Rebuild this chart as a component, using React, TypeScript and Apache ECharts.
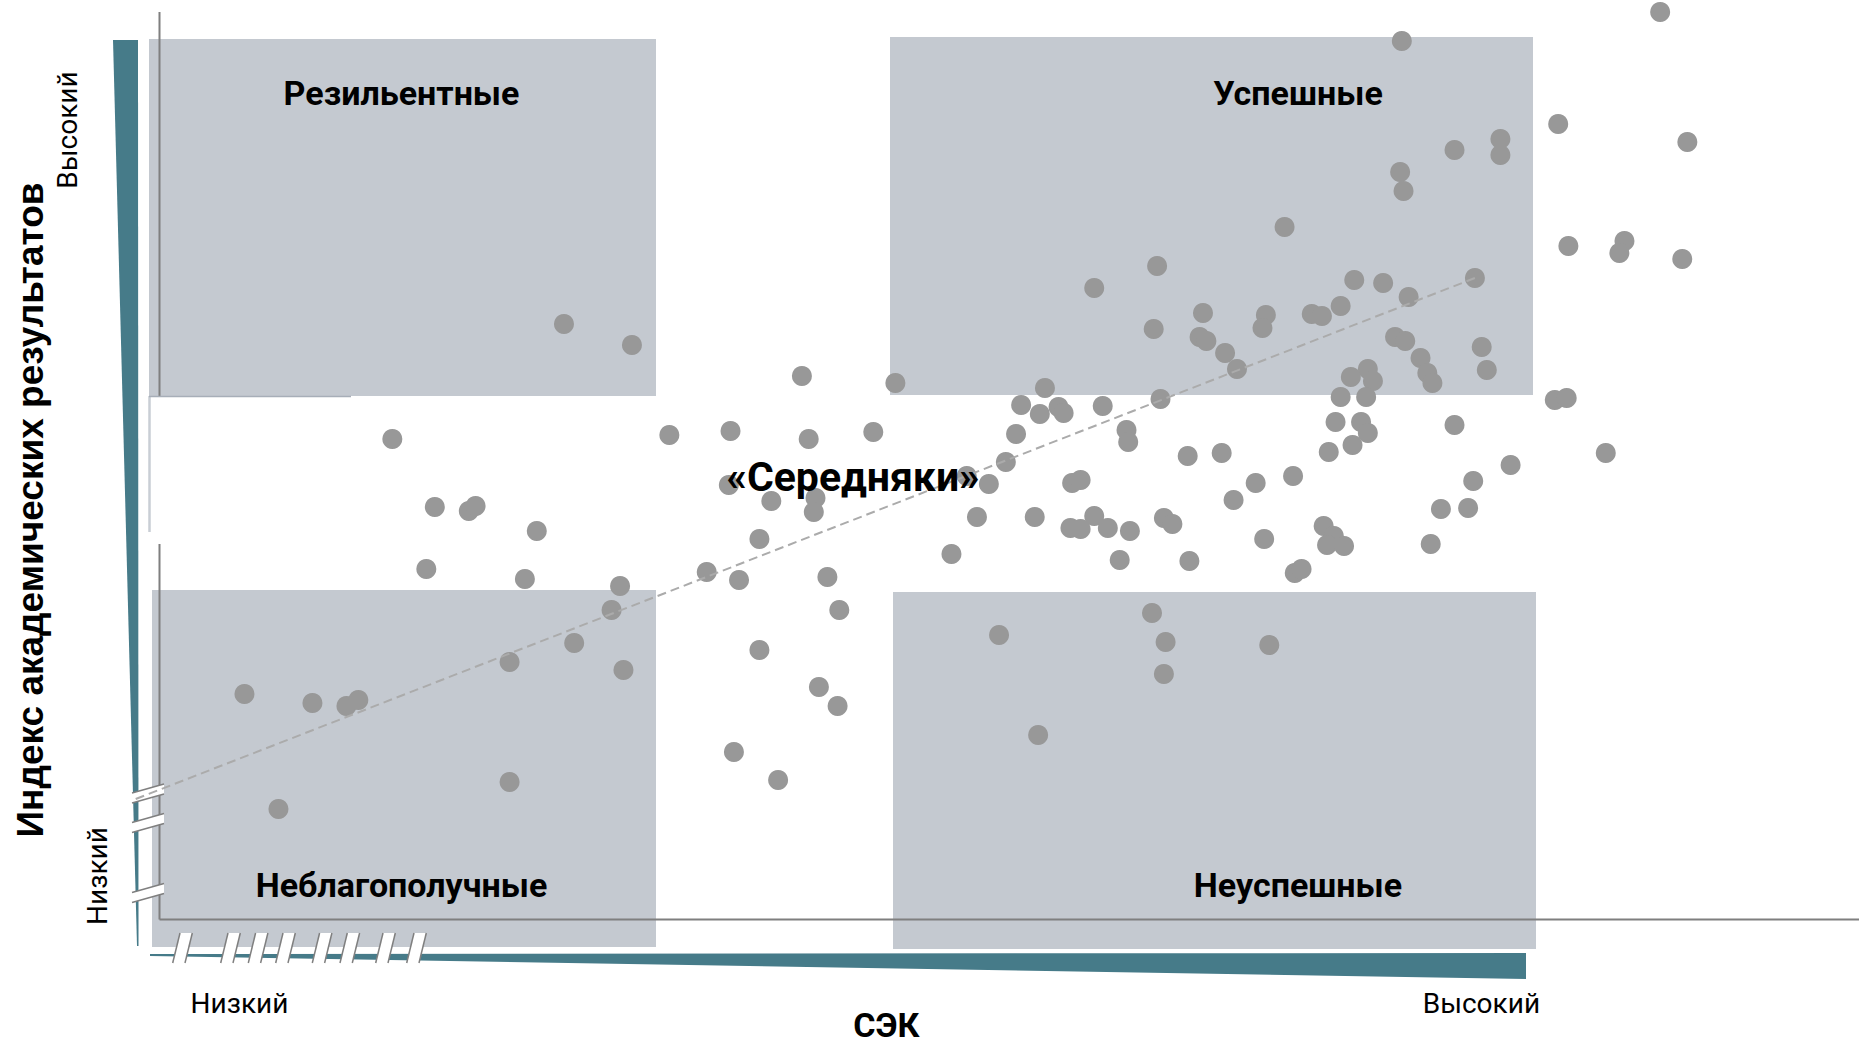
import React, { useEffect, useRef } from "react";
import * as echarts from "echarts";

// Socio-economic status index (x) and academic results index (y), arbitrary units
const sesIndex: number[] = [
  23.8, 27.8, 13.7, 30.0, 16.2, 18.2, 18.6, 22.2, 15.7, 21.5, 27.1, 32.2, 26.6, 24.4, 20.6, 27.3, 5.0, 9.0, 11.0, 11.7, 20.6, 7.0,
  55.0, 37.8, 43.3, 52.1, 50.7, 52.9, 53.2, 51.8, 55.5, 33.6, 38.2, 42.0, 50.4, 56.9, 57.0, 49.8, 33.5, 36.0, 38.6, 38.5, 47.5, 48.8,
  53.7, 54.2, 48.1, 51.5, 55.0, 53.6, 54.2, 55.8, 57.1, 35.3, 46.6, 56.5, 34.1, 39.3, 40.0, 35.3, 49.4, 58.4, 59.2, 59.1, 65.3, 38.8,
  39.9, 51.7, 33.8, 36.4,
  88.3, 73.1, 82.3, 89.9, 76.2, 78.9, 78.9, 73.0, 73.2, 66.2, 82.9, 86.2, 85.9, 89.6, 58.7, 70.3, 72.0, 77.4, 73.5, 69.5, 61.4, 65.1,
  64.9, 58.5, 67.8, 68.4, 61.2, 61.6, 62.7, 63.4, 58.9, 72.7, 73.3, 74.2, 74.6, 74.9, 77.8, 78.1, 71.1, 70.1, 71.4, 69.5, 71.0, 82.1,
  82.8, 69.2, 70.7, 71.1, 70.2, 76.2, 68.8, 60.5, 62.5, 85.1, 79.5, 66.7, 64.5, 63.2, 77.3, 75.4, 77.0, 59.1, 59.6, 68.5, 69.1, 68.7,
  69.7, 65.0, 74.8, 60.6, 66.8, 67.2,
];
const academicIndex: number[] = [
  59.6, 57.5, 48.1, 48.5, 41.3, 40.9, 41.4, 38.9, 35.1, 34.1, 33.4, 34.8, 31.0, 27.7, 25.8, 25.0, 22.6, 21.7, 21.4, 22.0, 13.8, 11.1,
  63.2, 54.4, 53.7, 53.2, 51.5, 51.3, 50.7, 50.6, 51.4, 48.9, 48.1, 48.8, 48.6, 49.0, 47.8, 45.8, 43.5, 41.9, 42.2, 40.8, 44.4, 43.6,
  43.7, 44.0, 40.3, 40.3, 40.4, 39.2, 39.1, 39.2, 38.9, 38.1, 36.6, 36.0, 34.0, 34.3, 31.0, 27.0, 28.5, 30.7, 27.8, 24.6, 27.5, 23.3,
  21.4, 18.5, 16.8, 14.0,
  90.8, 87.9, 79.6, 77.8, 77.0, 78.1, 76.5, 74.8, 72.9, 69.3, 67.4, 67.9, 66.7, 66.1, 65.4, 64.0, 63.7, 64.2, 62.3, 61.4, 60.7, 60.5,
  59.2, 59.1, 60.6, 60.4, 58.3, 57.9, 56.7, 55.1, 52.1, 58.3, 57.9, 56.2, 54.7, 53.7, 57.3, 55.0, 55.1, 54.3, 53.9, 52.3, 52.3, 52.0,
  52.2, 49.8, 49.8, 48.7, 47.5, 49.5, 46.8, 46.4, 46.7, 46.7, 45.5, 44.4, 43.7, 42.0, 43.9, 41.1, 41.2, 40.2, 39.6, 39.4, 38.4, 37.5,
  37.4, 38.1, 37.6, 35.9, 34.7, 35.1,
];

// Regression (trend) line end points
const trendSes: number[] = [-1.4, 77.4];
const trendAcademic: number[] = [12.1, 64.2];

const quadrantNames: string[] = ["Резильентные", "Успешные", "«Середняки»", "Неблагополучные", "Неуспешные"];
const levelLabels: string[] = ["Низкий", "Высокий"];
const yTitle = "Индекс академических результатов";
const xTitle = "СЭК";

const BOX = "#C4C9D0";
const TEAL = "#467B89";
const AXIS = "#7F7F7F";
const DOT = "#989898";

export default function App() {
  const ref = useRef<HTMLDivElement>(null);

  useEffect(() => {
    if (!ref.current) return;
    const chart = echarts.init(ref.current, undefined, { renderer: "svg" });

    const rect = (x: number, y: number, w: number, h: number) => ({
      type: "rect", z: 0, silent: true,
      shape: { x, y, width: w, height: h },
      style: { fill: BOX },
    });
    const seg = (x1: number, y1: number, x2: number, y2: number, stroke: string, lw: number, z: number) => ({
      type: "line", z, silent: true,
      shape: { x1, y1, x2, y2 },
      style: { stroke, lineWidth: lw },
    });
    const poly = (points: number[][], fill: string, z: number) => ({
      type: "polygon", z, silent: true, shape: { points }, style: { fill },
    });
    const txt = (text: string, x: number, y: number, font: string, rot = 0) => ({
      type: "text", z: 30, silent: true, x, y, rotation: rot,
      style: {
        text, x: 0, y: 0, fill: "#000", font,
        align: "center", verticalAlign: "middle",
        textAlign: "center", textVerticalAlign: "middle",
      },
    });

    const marks: any[] = [];
    // y-axis break marks
    [784, 813.5, 883.5].forEach((yR) => {
      marks.push(poly([[132, yR + 9], [164, yR], [164, yR + 10], [132, yR + 19]], "#FFFFFF", 3));
      marks.push(seg(132, yR + 9, 164, yR, AXIS, 1.5, 4));
      marks.push(seg(132, yR + 19, 164, yR + 10, AXIS, 1.5, 4));
    });
    // x-axis break marks
    [172.7, 220.7, 248.3, 275.7, 312.3, 340, 375.7, 406.7].forEach((bx) => {
      marks.push(poly([[bx, 963], [bx + 7.3, 933], [bx + 19.6, 933], [bx + 12.3, 963]], "#FFFFFF", 3));
      marks.push(seg(bx, 963, bx + 7.3, 933, AXIS, 1.5, 4));
      marks.push(seg(bx + 12.3, 963, bx + 19.6, 933, AXIS, 1.5, 4));
    });

    const quadFont = "bold 34px Roboto, sans-serif";
    const levelFont = "28px Roboto, sans-serif";

    chart.setOption({
      animation: false,
      grid: { left: 134, right: 0, top: 0, bottom: 128, containLabel: false },
      xAxis: { type: "value", min: -1.5, max: 100, show: false },
      yAxis: { type: "value", min: 0, max: 92, show: false },
      series: [
        {
          type: "scatter",
          data: sesIndex.map((x, i) => [x, academicIndex[i]]),
          symbol: "circle",
          symbolSize: 20,
          itemStyle: { color: DOT, opacity: 1 },
          z: 6,
          silent: true,
        },
        {
          type: "line",
          data: trendSes.map((x, i) => [x, trendAcademic[i]]),
          symbol: "none",
          showSymbol: false,
          lineStyle: { color: "#ABABAB", width: 2, type: [9, 5] },
          z: 7,
          silent: true,
        },
      ],
      graphic: [
        rect(149, 39, 507, 357),
        rect(890, 37, 643, 358),
        rect(152, 590, 504, 357),
        rect(893, 592, 643, 357),
        // axes
        seg(159.5, 12, 159.5, 396, AXIS, 2, 1),
        seg(159.5, 544, 159.5, 919.5, AXIS, 2, 1),
        seg(159.5, 919.5, 1859, 919.5, AXIS, 2, 1),
        seg(149.5, 396, 149.5, 532, "#C9CED5", 2.5, 1),
        seg(149, 396.5, 351, 396.5, "#A7AEB8", 1.5, 1),
        // wedges
        poly([[113, 40], [138, 40], [138.5, 946], [137, 946]], TEAL, 2),
        poly([[150, 954], [1526, 953], [1526, 979], [150, 956]], TEAL, 2),
        ...marks,
        // labels
        txt(quadrantNames[0], 401.5, 93, quadFont),
        txt(quadrantNames[1], 1298, 92.5, quadFont),
        txt(quadrantNames[2], 853, 477, "bold 41px Roboto, sans-serif"),
        txt(quadrantNames[3], 401.5, 884.5, quadFont),
        txt(quadrantNames[4], 1298, 884.5, quadFont),
        txt(yTitle, 30, 510, "bold 37px 'Liberation Sans', Arial, sans-serif", Math.PI / 2),
        txt(levelLabels[1], 67.8, 130, levelFont, Math.PI / 2),
        txt(levelLabels[0], 97.5, 876, levelFont, Math.PI / 2),
        txt(levelLabels[0], 239.5, 1003.4, levelFont),
        txt(levelLabels[1], 1481.4, 1003.4, levelFont),
        txt(xTitle, 886.3, 1025, "bold 34px Roboto, sans-serif"),
      ],
    });

    return () => chart.dispose();
  }, []);

  return (
    <div
      ref={ref}
      style={{ position: "fixed", left: 0, top: 0, width: 1859, height: 1048, background: "#fff" }}
    />
  );
}
